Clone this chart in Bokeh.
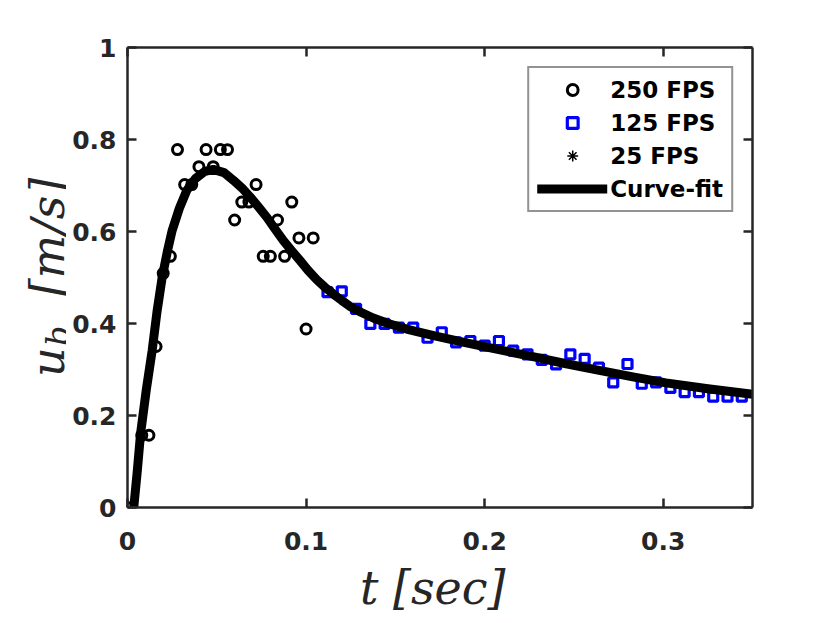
import math
from bokeh.plotting import figure
from bokeh.layouts import row
from bokeh.models import (Range1d, LinearAxis, FixedTicker, Legend,
                          LegendItem)
from bokeh.core.properties import value
from bokeh.embed import file_html
from bokeh.resources import INLINE

# ---- data ----
t250 = [0.000, 0.008, 0.012, 0.016, 0.020, 0.024, 0.028, 0.032, 0.036,
        0.040, 0.044, 0.048, 0.052, 0.056, 0.060, 0.064, 0.068, 0.072,
        0.076, 0.080, 0.084, 0.088, 0.092, 0.096, 0.100, 0.104]
u250 = [0.000, 0.157, 0.157, 0.350, 0.509, 0.546, 0.778, 0.702, 0.702,
        0.741, 0.778, 0.741, 0.778, 0.778, 0.625, 0.664, 0.664, 0.702,
        0.546, 0.546, 0.625, 0.546, 0.664, 0.586, 0.388, 0.586]

t125 = [0.112, 0.120, 0.128, 0.136, 0.144, 0.152, 0.160, 0.168, 0.176,
        0.184, 0.192, 0.200, 0.208, 0.216, 0.224, 0.232, 0.240, 0.248,
        0.256, 0.264, 0.272, 0.280, 0.288, 0.296, 0.304, 0.312, 0.320,
        0.328, 0.336, 0.344]
u125 = [0.468, 0.470, 0.432, 0.399, 0.399, 0.391, 0.391, 0.369, 0.381,
        0.359, 0.362, 0.352, 0.362, 0.341, 0.333, 0.321, 0.311, 0.333,
        0.323, 0.304, 0.272, 0.312, 0.269, 0.272, 0.260, 0.251, 0.251,
        0.241, 0.241, 0.241]

# no 25 FPS samples are visible in the plotted window
t25 = [float("nan")]
u25 = [float("nan")]

t_fit = [0.0035, 0.0055, 0.0073, 0.0105, 0.0138, 0.0165, 0.0194, 0.0225,
         0.025, 0.029, 0.0333, 0.038, 0.043, 0.048, 0.054, 0.0594, 0.064,
         0.0687, 0.073, 0.078, 0.0825, 0.0873, 0.092, 0.0966, 0.101, 0.106,
         0.1105, 0.1153, 0.120, 0.1246, 0.131, 0.1376, 0.146, 0.1563,
         0.172, 0.1898, 0.208, 0.227, 0.245, 0.2642, 0.283, 0.3015, 0.325,
         0.350]
u_fit = [0.000, 0.080, 0.160, 0.255, 0.341, 0.425, 0.500, 0.560, 0.602,
         0.650, 0.690, 0.715, 0.730, 0.735, 0.728, 0.711, 0.695, 0.675,
         0.655, 0.631, 0.606, 0.580, 0.558, 0.537, 0.516, 0.495, 0.479,
         0.464, 0.450, 0.437, 0.424, 0.412, 0.400, 0.388, 0.373, 0.358,
         0.343, 0.328, 0.313, 0.298, 0.284, 0.271, 0.258, 0.246]

x_ticks = [0, 0.1, 0.2, 0.3]
x_tick_labels = ["0", "0.1", "0.2", "0.3"]
y_ticks = [0, 0.2, 0.4, 0.6, 0.8, 1.0]
y_tick_labels = ["0", "0.2", "0.4", "0.6", "0.8", "1"]

series_labels = ["250 FPS", "125 FPS", "25 FPS", "Curve-fit"]
x_title = "t  [sec]"
y_title_parts = ["u", "b", "[m/s]"]

AX = "#262626"
LEFT_W = 66
FRAME_H = 460
H = 615

p = figure(frame_width=625, frame_height=FRAME_H,
           min_border_left=127 - LEFT_W, min_border_right=70,
           min_border_top=47, min_border_bottom=H - 47 - FRAME_H,
           x_range=Range1d(0, 0.35), y_range=Range1d(0, 1),
           output_backend="svg", toolbar_location=None,
           background_fill_color="white", border_fill_color="white")
p.grid.visible = False
p.outline_line_color = None

xb = p.below[0]
yl = p.left[0]

r1 = p.scatter(t250, u250, marker="circle", size=10, fill_color=None,
               line_color="black", line_width=3.0)
r2 = p.scatter(t125, u125, marker="square", size=9, fill_color=None,
               line_color="#0000ff", line_width=3.2)
r3 = p.scatter(t25, u25, marker="asterisk", size=11, line_color="black",
               line_width=1.5)
r4 = p.line(t_fit, u_fit, line_width=9, line_color="black",
            line_join="round", line_cap="round")

top_ax = LinearAxis()
right_ax = LinearAxis()
p.add_layout(top_ax, "above")
p.add_layout(right_ax, "right")

def style(ax, ticks, labels, show):
    ax.ticker = FixedTicker(ticks=ticks)
    ax.axis_line_color = AX
    ax.axis_line_width = 2.5
    ax.major_tick_line_color = AX
    ax.major_tick_line_width = 2.5
    ax.major_tick_in = 9
    ax.major_tick_out = 0
    ax.minor_tick_line_color = None
    if show:
        ax.major_label_overrides = {t: l for t, l in zip(ticks, labels)}
        ax.major_label_text_font = "DejaVu Sans"
        ax.major_label_text_font_style = "bold"
        ax.major_label_text_font_size = "25px"
        ax.major_label_text_color = AX
    else:
        ax.major_label_text_font_size = "0px"
        ax.major_label_text_alpha = 0

style(xb, x_ticks, x_tick_labels, True)
style(yl, y_ticks, y_tick_labels, True)
style(top_ax, x_ticks, x_tick_labels, False)
style(right_ax, y_ticks, y_tick_labels, False)
xb.major_label_standoff = 24
yl.major_label_standoff = 11

xb.axis_label = x_title
xb.axis_label_text_font = "DejaVu Serif"
xb.axis_label_text_font_style = "italic"
xb.axis_label_text_font_size = "46px"
xb.axis_label_text_color = AX
xb.axis_label_standoff = 8

legend = Legend(items=[LegendItem(label=series_labels[0], renderers=[r1]),
                       LegendItem(label=series_labels[1], renderers=[r2]),
                       LegendItem(label=series_labels[2], renderers=[r3]),
                       LegendItem(label=series_labels[3], renderers=[r4])],
                location="top_right", margin=19, padding=8, spacing=6,
                glyph_width=70, glyph_height=27, label_height=27,
                label_standoff=3,
                label_text_font="DejaVu Sans", label_text_font_style="bold",
                label_text_font_size="23px", label_text_color="black",
                border_line_color=AX, border_line_width=2,
                background_fill_color="white", background_fill_alpha=1)
p.add_layout(legend)

# narrow side panel (its frame is aligned with the main frame by the row)
# that carries the rotated y-axis title: u with subscript b, then [m/s]
lab = figure(width=LEFT_W, height=H, x_range=Range1d(0, LEFT_W),
             y_range=Range1d(0, FRAME_H), x_axis_type=None,
             y_axis_type=None, min_border=0, output_backend="svg",
             toolbar_location=None,
             background_fill_color="white", border_fill_color="white")
lab.grid.visible = False
lab.outline_line_color = None

def ytitle(text, x, y, size):
    lab.text(x=[x], y=[y], text=[text], angle=math.pi / 2,
             text_font=value("DejaVu Serif"), text_font_style="italic",
             text_font_size=size, text_color=AX,
             text_baseline="alphabetic", text_align="left")

ytitle(y_title_parts[0], 47, 129, "46px")
ytitle(y_title_parts[1], 57, 160, "32px")
ytitle(y_title_parts[2], 47, 210, "46px")

layout = row(lab, p, spacing=0)
open("out.html", "w").write(file_html(layout, INLINE))
